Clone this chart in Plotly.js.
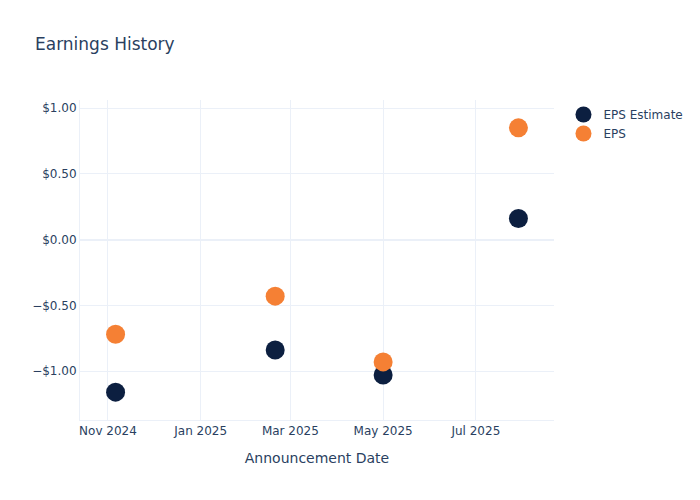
<!DOCTYPE html>
<html>
<head>
<meta charset="utf-8">
<script src="https://cdn.plot.ly/plotly-3.0.1.min.js"></script>
<style>html,body{margin:0;padding:0;background:#fff;}#chart{width:700px;height:500px;}</style>
</head>
<body>
<div id="chart"></div>
<script>
const dates = ["2024-11-06", "2025-02-19", "2025-05-01", "2025-07-29"];
const epsEstimate = [-1.16, -0.84, -1.03, 0.16];
const epsActual = [-0.72, -0.43, -0.93, 0.85];

const traces = [
  {x: dates, y: epsEstimate, name: "EPS Estimate", type: "scatter", mode: "markers",
   marker: {color: "#0c1f40", size: 19}},
  {x: dates, y: epsActual, name: "EPS", type: "scatter", mode: "markers",
   marker: {color: "#f58034", size: 19}}
];

const layout = {
  width: 700, height: 500,
  paper_bgcolor: "#fff", plot_bgcolor: "#fff",
  font: {family: '"DejaVu Sans", verdana, arial, sans-serif', color: "#2a3f5f", size: 12},
  title: {text: "Earnings History", x: 0.05, font: {size: 17}},
  margin: {l: 80, r: 80, t: 100, b: 80},
  xaxis: {title: {text: "Announcement Date", font: {size: 14}, standoff: 15}, type: "date",
    automargin: true,
    gridcolor: "#EBF0F8", zerolinecolor: "#EBF0F8", linecolor: "#EBF0F8",
    tickformat: "%b %Y", dtick: "M2"},
  yaxis: {tickformat: "$.2f", gridcolor: "#EBF0F8", zerolinecolor: "#EBF0F8", automargin: true,
    zerolinewidth: 2, linecolor: "#EBF0F8"},
  legend: {font: {size: 12}},
  showlegend: true
};

Plotly.newPlot("chart", traces, layout, {displayModeBar: false});
</script>
</body>
</html>
